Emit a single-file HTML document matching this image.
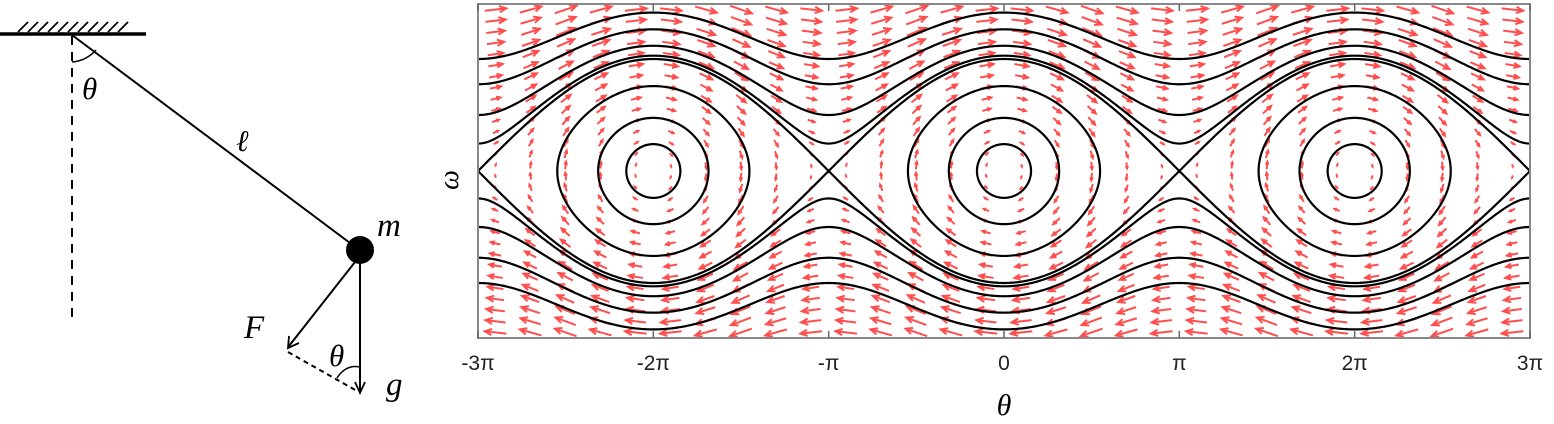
<!DOCTYPE html>
<html><head><meta charset="utf-8"><style>
html,body{margin:0;padding:0;background:#fff;}
svg{display:block;}
.m{font-family:"Liberation Serif",serif;font-style:italic;fill:#000;}
.t{font-family:"Liberation Sans",sans-serif;font-size:21px;fill:#222;}
</style></head><body>
<svg width="1554" height="424" viewBox="0 0 1554 424" xmlns="http://www.w3.org/2000/svg">
<g>
 <line x1="0" y1="34" x2="146" y2="34" stroke="#000" stroke-width="3.5"/>
 <g stroke="#000" stroke-width="1.8" id="hatch"></g>
 <line x1="72" y1="36" x2="72" y2="322" stroke="#000" stroke-width="2" stroke-dasharray="9,7"/>
 <path d="M72 62 Q86 61 96 50" fill="none" stroke="#000" stroke-width="1.5"/>
 <line x1="72" y1="35" x2="358" y2="249" stroke="#000" stroke-width="2"/>
 <circle cx="360" cy="250" r="14" fill="#000"/>
 <line x1="360" y1="258" x2="360" y2="391" stroke="#000" stroke-width="2"/>
 <path d="M355 382 L360 393 L365 382" fill="none" stroke="#000" stroke-width="1.8"/>
 <line x1="355" y1="262" x2="289" y2="346" stroke="#000" stroke-width="2"/>
 <path d="M289 336 L288 348 L299 343" fill="none" stroke="#000" stroke-width="1.8"/>
 <line x1="288" y1="352" x2="357" y2="391" stroke="#000" stroke-width="2" stroke-dasharray="5,4"/>
 <path d="M337 378 Q346 364 360 367" fill="none" stroke="#000" stroke-width="1.5"/>
 <text class="m" x="82" y="99" font-size="31">θ</text>
 <text class="m" x="236" y="151" font-size="30">ℓ</text>
 <text class="m" x="377" y="236" font-size="33">m</text>
 <text class="m" x="244" y="338" font-size="33">F</text>
 <text class="m" x="329" y="366" font-size="31">θ</text>
 <text class="m" x="386" y="395" font-size="33">g</text>
</g>
<g>
 <g id="arrows"></g>
 <g id="curves"></g>
 <rect x="478" y="4" width="1052" height="334" fill="none" stroke="#888" stroke-width="2"/>
 <g id="ticks"></g>
 <text class="m" x="1004" y="415" font-size="30" text-anchor="middle">θ</text>
 <text class="m" x="458" y="180" font-size="28" text-anchor="middle" transform="rotate(-90 458 180)">ω</text>
</g>
</svg>
<script>
var tickValues=[-3,-2,-1,0,1,2,3];
var tickLabels=["-3π","-2π","-π","0","π","2π","3π"];
var librationEnergies=[-0.885,-0.55,0.15];
var rotationEnergies=[1.0,1.12,1.5,2.2,3.0];
var gridCols=30, gridRows=30;
var NS="http://www.w3.org/2000/svg";
var X0=478,X1=1530,Y0=4,Y1=338,YC=171,PXW=56;
var thMin=-3*Math.PI,thMax=3*Math.PI,wMax=(Y1-Y0)/2/PXW;
function sx(t){return X0+(t-thMin)/(thMax-thMin)*(X1-X0);}
function sy(w){return YC-w*PXW;}
var h=document.getElementById('hatch');
for(var i=0;i<11;i++){var l=document.createElementNS(NS,'line');


l.setAttribute('x1',18+i*10);l.setAttribute('y1',32);l.setAttribute('x2',28+i*10);l.setAttribute('y2',22);h.appendChild(l);}
var ar=document.getElementById('arrows');
for(var c=0;c<gridCols;c++)for(var r=0;r<gridRows;r++){
 var th=thMin+(c+0.5)/gridCols*(thMax-thMin);
 var w=-wMax+(r+0.5)/gridRows*2*wMax;
 var dx=7.5*w,dy=7.5*Math.sin(th);
 var x=sx(th)-dx/2,y=sy(w)-dy/2;
 var L=Math.hypot(dx,dy);
 var p=document.createElementNS(NS,'path');
 
 
 var x2=x+dx,y2=y+dy,d='M'+x+' '+y+'L'+x2+' '+y2;
 if(L>2){var ux=dx/L,uy=dy/L,hl=Math.min(7,L*0.4);
  d+='M'+(x2-hl*ux+hl*0.45*uy)+' '+(y2-hl*uy-hl*0.45*ux)+'L'+x2+' '+y2+'L'+(x2-hl*ux-hl*0.45*uy)+' '+(y2-hl*uy+hl*0.45*ux);}
 p.setAttribute('d',d);p.setAttribute('stroke','#f22');p.setAttribute('stroke-width','2');p.setAttribute('fill','none');p.setAttribute('opacity','0.8');
 ar.appendChild(p);}
var cv=document.getElementById('curves');
function addPath(d,name){var p=document.createElementNS(NS,'path');
 
 
 p.setAttribute('d',d);p.setAttribute('fill','none');p.setAttribute('stroke','#000');p.setAttribute('stroke-width','2.2');cv.appendChild(p);}
librationEnergies.forEach(function(E){
 var tm=Math.acos(-E);
 [-2,0,2].forEach(function(k){
  var c0=k*Math.PI,d='';var N=200;
  for(var s=0;s<=N;s++){var a=s/N*2*Math.PI;var t=tm*Math.cos(a);var w=Math.sqrt(Math.max(0,2*(E+Math.cos(t))))*(a<Math.PI?1:-1);
   d+=(s?'L':'M')+sx(c0+t).toFixed(2)+' '+sy(w).toFixed(2);}
  addPath(d+'Z','libration-orbit');});});
rotationEnergies.forEach(function(E){[1,-1].forEach(function(sg){
 var d='';for(var s=0;s<=600;s++){var t=thMin+s/600*(thMax-thMin);var w=sg*Math.sqrt(Math.max(0,2*(E+Math.cos(t))));
  d+=(s?'L':'M')+sx(t).toFixed(2)+' '+sy(w).toFixed(2);}
 addPath(d,E===1.0?'separatrix':'rotation-orbit');});});
var tk=document.getElementById('ticks');
tickValues.forEach(function(v,i){var x=sx(v*Math.PI);
 [[Y1,Y1-7],[Y0,Y0+7]].forEach(function(yy){var l=document.createElementNS(NS,'line');
  
  
  l.setAttribute('x1',x);l.setAttribute('x2',x);l.setAttribute('y1',yy[0]);l.setAttribute('y2',yy[1]);l.setAttribute('stroke','#666');l.setAttribute('stroke-width','1.5');tk.appendChild(l);});
 var t=document.createElementNS(NS,'text');
 
 
 t.setAttribute('class','t');t.setAttribute('x',x);t.setAttribute('y',370);t.setAttribute('text-anchor','middle');t.textContent=tickLabels[i];tk.appendChild(t);});
</script>
</body></html>
